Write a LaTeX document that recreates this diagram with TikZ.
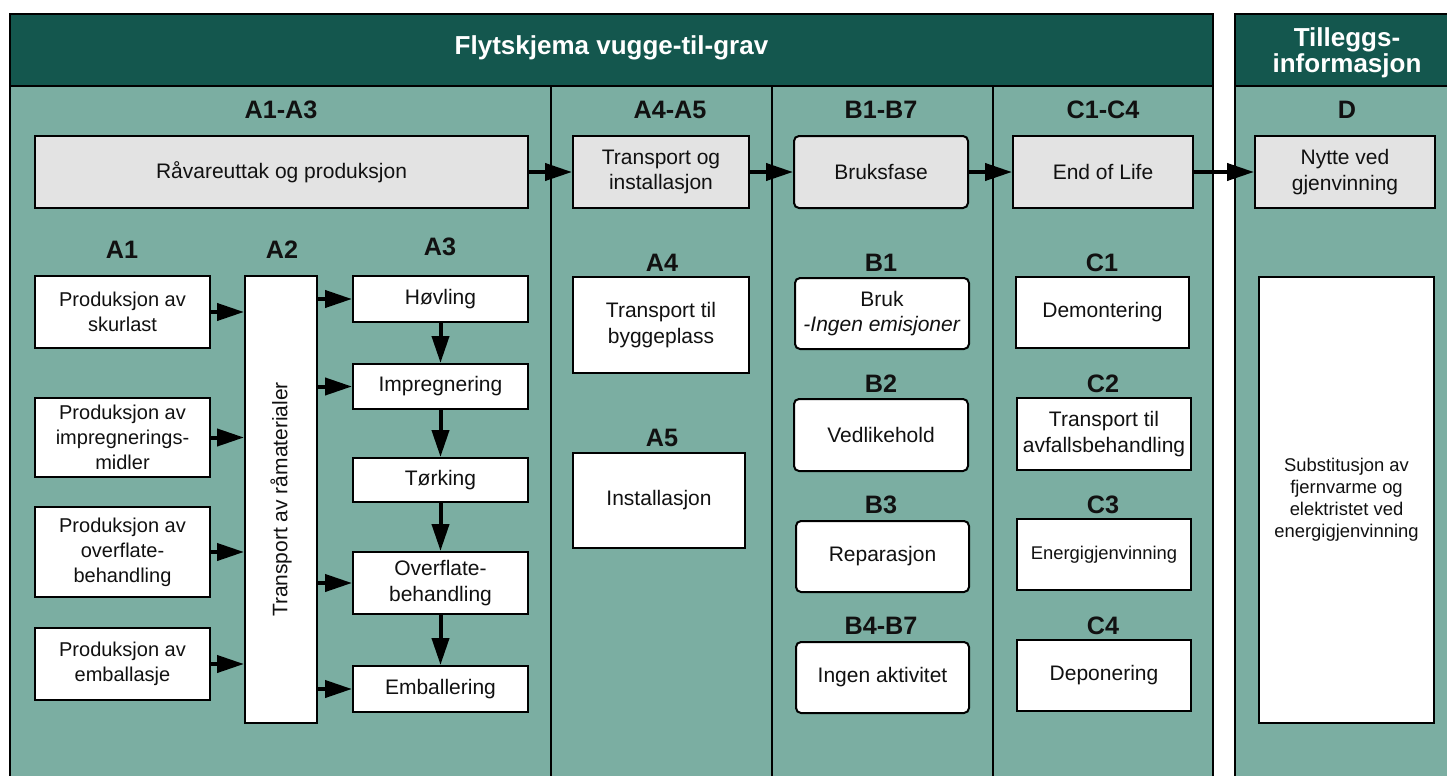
\documentclass[tikz,border=0pt]{standalone}
\usepackage{fontspec}
\setmainfont{Liberation Sans}
\usetikzlibrary{arrows.meta}
\definecolor{hdr}{HTML}{14574E}
\definecolor{bodyc}{HTML}{7BAEA2}
\definecolor{gbox}{HTML}{E3E3E3}
\definecolor{txt}{HTML}{111111}
\begin{document}
\begin{tikzpicture}[x=0.5pt,y=-0.5pt,
  frame/.style={draw=black, line width=1pt},
  divider/.style={draw=black, line width=0.8pt},
  hdrtxt/.style={text=white, align=center, font=\bfseries\fontsize{13}{13}\selectfont, inner sep=0pt},
  lbl/.style={text=txt, font=\bfseries\fontsize{12.6}{14}\selectfont, inner sep=0pt},
  bx/.style n args={2}{draw=black, line width=1pt, fill=white, text=txt, align=center, inner sep=0pt,
     minimum width=#1*0.5pt, minimum height=#2*0.5pt, font=\fontsize{10.5}{12.8}\selectfont},
  gray/.style={fill=gbox},
  rnd/.style={rounded corners=2.5pt},
  small/.style={font=\fontsize{9.2}{11}\selectfont},
  prod/.style={font=\fontsize{10}{12.5}\selectfont},
  arr/.style={draw=black, line width=2pt, -{Triangle[length=13.5pt,width=8.5pt]}}
]
\useasboundingbox (0,0) rectangle (1447,776);
\clip (0,0) rectangle (1447,776);
\fill[white] (0,0) rectangle (1447,776);

% main frame
\fill[bodyc] (10,86) rectangle (1213,800);
\fill[hdr] (10,14) rectangle (1213,86);
\draw[frame] (10,14) rectangle (1213,800);
\draw[frame] (10,86) -- (1213,86);
\draw[divider] (551,86) -- (551,800);
\draw[divider] (772,86) -- (772,800);
\draw[divider] (993,86) -- (993,800);
% D frame
\fill[bodyc] (1235,86) rectangle (1470,800);
\fill[hdr] (1235,14) rectangle (1470,86);
\draw[frame] (1235,14) rectangle (1470,800);
\draw[frame] (1235,86) -- (1470,86);

% header texts
\node[hdrtxt] (title) at (611.5,48) {Flytskjema vugge-til-grav};
\node[hdrtxt] (tillegg) at (1347,52.5) {Tilleggs-\\informasjon};

% column labels
\node[lbl] (lA13) at (281,110) {A1-A3};
\node[lbl] (lA45) at (670,110) {A4-A5};
\node[lbl] (lB17) at (881,110) {B1-B7};
\node[lbl] (lC14) at (1103,110) {C1-C4};
\node[lbl] (lD) at (1347,110) {D};

% top row
\node[bx={493}{72}, gray] (raw) at (281.5,172) {Råvareuttak og produksjon};
\node[bx={176}{72}, gray] (trans) at (661,172) {Transport og\\installasjon};
\node[bx={174}{72}, gray, rnd] (bruks) at (881,172) {Bruksfase};
\node[bx={180}{72}, gray] (eol) at (1103,172) {End of Life};
\node[bx={180}{72}, gray] (nytte) at (1345,172) {Nytte ved\\gjenvinning};

\draw[arr] (raw.east) -- (trans.west);
\draw[arr] (trans.east) -- (bruks.west);
\draw[arr] (bruks.east) -- (eol.west);
\draw[arr] (eol.east) -- (nytte.west);

% A1-A3 sub labels
\node[lbl] (lA1) at (122,250) {A1};
\node[lbl] (lA2) at (282,250) {A2};
\node[lbl] (lA3) at (440,247) {A3};

% A1 boxes
\node[bx={175}{72}, prod] (p1) at (122.5,312) {Produksjon av\\skurlast};
\node[bx={175}{79}, prod] (p2) at (122.5,437.5) {Produksjon av\\impregnerings-\\midler};
\node[bx={175}{90}, prod] (p3) at (122.5,552) {Produksjon av\\overflate-\\behandling};
\node[bx={175}{72}, prod] (p4) at (122.5,664) {Produksjon av\\emballasje};

% A2
\node[bx={72}{447}] (a2) at (281,499.5) {};
\node[rotate=90, text=txt, inner sep=0pt, font=\fontsize{10.5}{12.8}\selectfont] (a2t) at (a2.center) {Transport av råmaterialer};

% A3 boxes
\node[bx={175}{46}] (hov) at (440.5,299) {Høvling};
\node[bx={175}{45}] (imp) at (440.5,386.5) {Impregnering};
\node[bx={175}{44}] (tor) at (440.5,480) {Tørking};
\node[bx={175}{62}] (ovf) at (440.5,583) {Overflate-\\behandling};
\node[bx={175}{46}] (emb) at (440.5,689) {Emballering};

% arrows A1 -> A2
\draw[arr] (p1.east) -- (p1.east -| a2.west);
\draw[arr] (p2.east) -- (p2.east -| a2.west);
\draw[arr] (p3.east) -- (p3.east -| a2.west);
\draw[arr] (p4.east) -- (p4.east -| a2.west);
% arrows A2 -> A3
\draw[arr] (hov.west -| a2.east) -- (hov.west);
\draw[arr] (imp.west -| a2.east) -- (imp.west);
\draw[arr] (ovf.west -| a2.east) -- (ovf.west);
\draw[arr] (emb.west -| a2.east) -- (emb.west);
% vertical chain
\draw[arr] (hov.south) -- (imp.north);
\draw[arr] (imp.south) -- (tor.north);
\draw[arr] (tor.south) -- (ovf.north);
\draw[arr] (ovf.south) -- (emb.north);

% A4-A5
\node[lbl] (lA4) at (662,263) {A4};
\node[bx={176}{96}] (a4) at (661,325) {Transport til\\byggeplass};
\node[lbl] (lA5) at (662,438) {A5};
\node[bx={172}{95}] (a5) at (659,500.5) {Installasjon};

% B
\node[lbl] (lB1) at (881,263) {B1};
\node[bx={174}{71}, rnd] (b1) at (882,313.5) {Bruk\\\textit{-Ingen emisjoner}};
\node[lbl] (lB2) at (881,384) {B2};
\node[bx={174}{72}, rnd] (b2) at (881,435) {Vedlikehold};
\node[lbl] (lB3) at (881,505) {B3};
\node[bx={173}{71}, rnd] (b3) at (882.5,556.5) {Reparasjon};
\node[lbl] (lB4) at (881,626) {B4-B7};
\node[bx={173}{71}, rnd] (b4) at (882.5,677.5) {Ingen aktivitet};

% C
\node[lbl] (lC1) at (1102,263) {C1};
\node[bx={173}{71}] (c1) at (1102.5,312.5) {Demontering};
\node[lbl] (lC2) at (1103,384) {C2};
\node[bx={174}{72}] (c2) at (1104,434) {Transport til\\avfallsbehandling};
\node[lbl] (lC3) at (1103,505) {C3};
\node[bx={174}{71}, small] (c3) at (1104,554.5) {Energigjenvinning};
\node[lbl] (lC4) at (1103,626) {C4};
\node[bx={174}{71}] (c4) at (1104,675.5) {Deponering};

% D
\node[bx={175}{446}, small] (d) at (1346.5,500) {Substitusjon av\\fjernvarme og\\elektristet ved\\energigjenvinning};

\end{tikzpicture}
\end{document}
